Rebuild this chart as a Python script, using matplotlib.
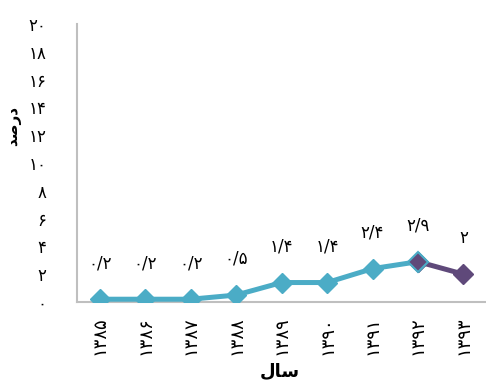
import matplotlib
matplotlib.use("Agg")
import matplotlib.pyplot as plt

# data
years = [1385, 1386, 1387, 1388, 1389, 1390, 1391, 1392, 1393]
values = [0.2, 0.2, 0.2, 0.5, 1.4, 1.4, 2.4, 2.9, 2.0]
y_ticks = [0, 2, 4, 6, 8, 10, 12, 14, 16, 18, 20]

TEAL = "#4BACC6"
PURPLE = "#5F497A"
FA_DIGITS = str.maketrans("0123456789.", "۰۱۲۳۴۵۶۷۸۹/")

# Arabic presentation forms in visual (left-to-right) order, since
# matplotlib does no shaping or bidi
LABEL_X = "\uFEDD\uFE8E\uFEB3"            # سال
LABEL_Y = "\uFEAA\uFEBB\uFEAD\uFEA9"      # درصد


def fa(v):
    s = f"{v:g}" if isinstance(v, float) else str(v)
    return s.translate(FA_DIGITS)


plt.rcParams["font.family"] = ["DejaVu Sans"]

fig = plt.figure(figsize=(4.86, 3.85), dpi=100)
ax = fig.add_axes([0.1584, 0.2156, 0.842, 0.722])

xs = list(range(len(years)))
ax.plot(xs[:8], values[:8], color=TEAL, linewidth=3.6, marker="D",
        markersize=10, markerfacecolor=TEAL, markeredgecolor=TEAL, zorder=3)
ax.plot(xs[7:], values[7:], color=PURPLE, linewidth=3.6, marker="D",
        markersize=10, markerfacecolor=PURPLE, markeredgecolor=PURPLE, zorder=3)
ax.plot(xs[7], values[7], marker="D", markersize=10, markerfacecolor=PURPLE,
        markeredgecolor=TEAL, markeredgewidth=1.5, zorder=4)

for x, v in zip(xs, values):
    ax.annotate(fa(v), (x, v), xytext=(0, 26), textcoords="offset points",
                ha="center", va="center", fontsize=12)

ax.set_xlim(-0.5, len(years) - 0.5)
ax.set_ylim(0, 20)
ax.set_xticks(xs)
ax.set_xticklabels([fa(y) for y in years], rotation=90, fontsize=13)
ax.set_yticks(y_ticks)
ax.set_yticklabels([fa(t) for t in y_ticks], fontsize=12)
ax.tick_params(axis="y", length=0, pad=22)
ax.tick_params(axis="x", length=0, pad=10)

for side in ("top", "right"):
    ax.spines[side].set_visible(False)
for side in ("left", "bottom"):
    ax.spines[side].set_color("#BFBFBF")
    ax.spines[side].set_linewidth(1.5)

fig.text(0.029, 0.672, LABEL_Y, rotation=90, ha="center", va="center",
         fontsize=11, fontweight="bold")
fig.text(0.575, 0.035, LABEL_X, ha="center", va="center",
         fontsize=13, fontweight="bold")

fig.savefig("out.png", dpi=100)
